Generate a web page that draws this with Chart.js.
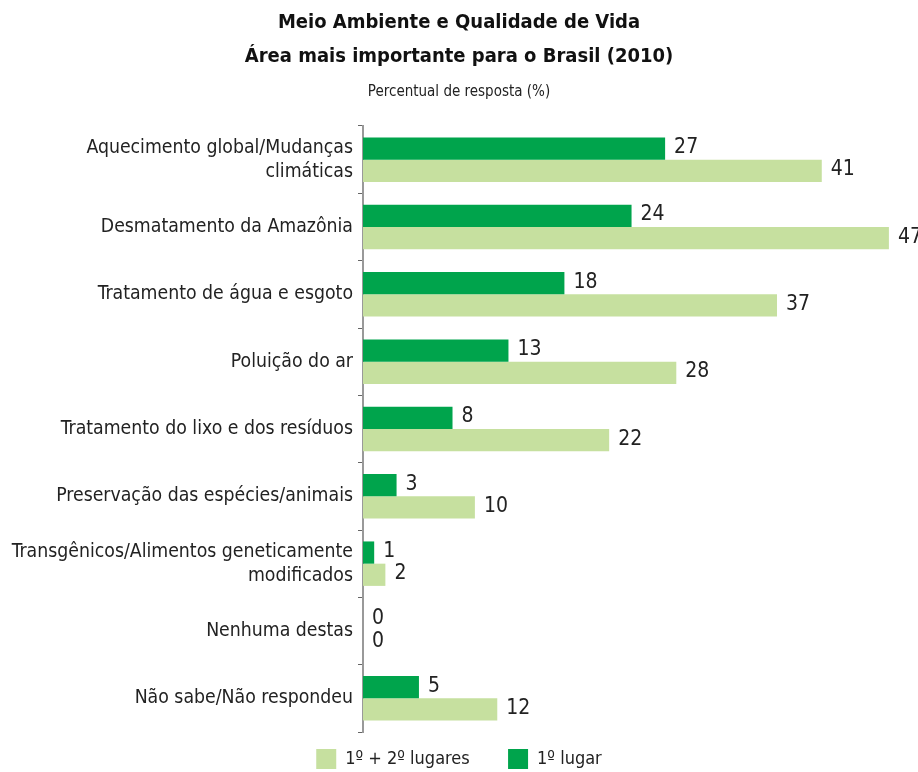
<!DOCTYPE html>
<html>
<head>
<meta charset="utf-8">
<script src="https://cdn.jsdelivr.net/npm/chart.js@4"></script>
<style>
  html, body { margin: 0; padding: 0; background: #fff; }
  #wrap { width: 918px; height: 772px; }
</style>
</head>
<body>
<div id="wrap"><canvas id="mychart"></canvas></div>
<script>
const categories = [
  ['Aquecimento global/Mudanças', 'climáticas'],
  'Desmatamento da Amazônia',
  'Tratamento de água e esgoto',
  'Poluição do ar',
  'Tratamento do lixo e dos resíduos',
  'Preservação das espécies/animais',
  ['Transgênicos/Alimentos geneticamente', 'modificados'],
  'Nenhuma destas',
  'Não sabe/Não respondeu'
];
const firstPlace = [27, 24, 18, 13, 8, 3, 1, 0, 5];
const firstSecond = [41, 47, 37, 28, 22, 10, 2, 0, 12];

const FONT = "'Liberation Sans Narrow', 'DejaVu Sans Condensed', 'Arial Narrow', sans-serif";

// draws the value next to each bar
const valueLabels = {
  id: 'valueLabels',
  afterDatasetsDraw(chart) {
    const c = chart.ctx;
    c.save();
    c.font = '21px ' + FONT;
    c.fillStyle = '#222';
    c.textBaseline = 'middle';
    c.textAlign = 'left';
    chart.data.datasets.forEach((ds, i) => {
      chart.getDatasetMeta(i).data.forEach((bar, j) => {
        c.fillText(String(ds.data[j]), bar.x + 9, bar.y - 1);
      });
    });
    c.restore();
  }
};

const ctx = document.getElementById('mychart').getContext('2d');
let mychart = new Chart(ctx, {
  type: 'bar',
  data: {
    labels: categories,
    datasets: [
      {
        label: '1º lugar',
        data: firstPlace,
        backgroundColor: '#00a44c',
        categoryPercentage: 0.66,
        barPercentage: 1.0
      },
      {
        label: '1º + 2º lugares',
        data: firstSecond,
        backgroundColor: '#c6e09f',
        categoryPercentage: 0.66,
        barPercentage: 1.0
      }
    ]
  },
  options: {
    indexAxis: 'y',
    responsive: true,
    maintainAspectRatio: false,
    animation: false,
    layout: { padding: { top: 6, right: 0, left: 0, bottom: -7 } },
    scales: {
      x: {
        display: false,
        min: 0,
        max: 49.6 // leaves room for the value labels at the right
      },
      y: {
        afterFit: s => { s.width = 363; },
        border: { display: true, color: '#999', width: 2 },
        grid: { drawOnChartArea: false, drawTicks: true, tickLength: 5, color: '#666', offset: true },
        ticks: {
          color: '#222',
          padding: 5,
          font: { family: FONT, size: 19.3, lineHeight: 1.25 }
        }
      }
    },
    plugins: {
      title: {
        display: true,
        text: ['Meio Ambiente e Qualidade de Vida', 'Área mais importante para o Brasil (2010)'],
        color: '#111',
        font: { family: FONT, size: 20, weight: 'bold', lineHeight: 1.7 },
        padding: { top: 0, bottom: 9 }
      },
      subtitle: {
        display: true,
        text: 'Percentual de resposta (%)',
        color: '#222',
        font: { family: FONT, size: 15 },
        padding: { top: 0, bottom: 25 }
      },
      legend: {
        position: 'bottom',
        reverse: true,
        labels: {
          color: '#222',
          boxWidth: 20,
          boxHeight: 20,
          padding: 17,
          font: { family: FONT, size: 18 },
          generateLabels(chart) {
            const items = Chart.defaults.plugins.legend.labels.generateLabels(chart);
            // wider gap after the first legend entry
            items.forEach(it => { if (it.datasetIndex === 1) it.text += '\u2003 '; });
            return items;
          }
        }
      },
      tooltip: { enabled: false }
    }
  },
  plugins: [valueLabels]
});
</script>
</body>
</html>
